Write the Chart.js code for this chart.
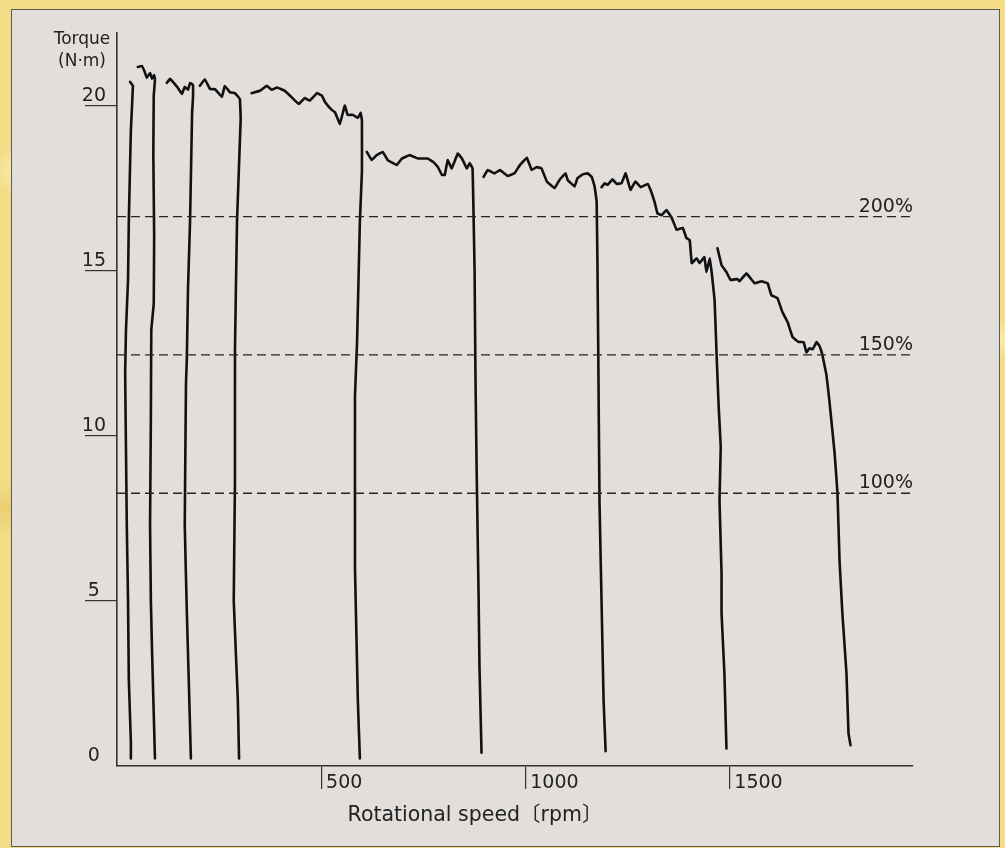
<!DOCTYPE html>
<html>
<head>
<meta charset="utf-8">
<script src="https://cdn.jsdelivr.net/npm/chart.js@4.4.0/dist/chart.umd.min.js"></script>
<style>
  html, body { margin: 0; padding: 0; }
  body {
    width: 1005px; height: 848px; overflow: hidden; position: relative;
    background:
      radial-gradient(ellipse at 3% 20%, rgba(255,245,190,0.9) 0, rgba(255,245,190,0) 40px),
      radial-gradient(ellipse at 2% 60%, rgba(230,200,100,0.8) 0, rgba(230,200,100,0) 50px),
      radial-gradient(ellipse at 99% 40%, rgba(250,240,170,0.9) 0, rgba(250,240,170,0) 40px),
      #f2dc86;
  }
  #panel {
    position: absolute; left: 11px; top: 9px; width: 987px; height: 836px;
    background: #e2dedb; border: 1px solid #5e5a55;
  }
  #wrap { position: absolute; left: 0; top: 0; }
</style>
</head>
<body>
<div id="panel"></div>
<div id="wrap"><canvas id="chart" width="1005" height="848"></canvas></div>
<script>
// torque (N·m) against rotational speed (rpm), one run per speed setting
var run1 = [[32,20.72],[39,20.6],[34,19.26],[29,16.54],[27,14.72],[22,13.2],[20,11.9],[22,9.57],[24,7.29],[27,5.02],[29,2.6],[34,0.72],[34,0.23]];
var run2 = [[51,21.17],[61,21.2],[68,21.02],[73,20.84],[81,20.99],[86,20.81],[91,20.93],[93,20.78],[90,20.3],[89,18.5],[91,16.1],[90,14.0],[84,13.2],[83,10.6],[81,7.3],[83,5.0],[86,3.4],[93,0.23]];
var run3 = [[122,20.69],[130,20.81],[137,20.72],[149,20.54],[159,20.35],[166,20.57],[174,20.48],[179,20.69],[186,20.63],[186,20.2],[184,19.8],[179,16.5],[174,14.5],[171,12.3],[169,11.6],[166,7.3],[171,4.7],[176,2.5],[181,0.23]];
var run4 = [[203,20.6],[215,20.8],[228,20.5],[240,20.5],[257,20.26],[264,20.6],[277,20.4],[289,20.38],[301,20.2],[303,19.6],[294,16.5],[289,12.6],[289,8.6],[286,5.0],[296,2.0],[299,0.23]];
var run5 = [[330,20.38],[350,20.45],[367,20.6],[379,20.48],[392,20.55],[411,20.45],[424,20.3],[436,20.15],[445,20.05],[460,20.23],[472,20.15],[490,20.38],[502,20.3],[510,20.1],[526,19.87],[534,19.8],[546,19.45],[558,20.0],[565,19.72],[578,19.72],[590,19.63],[597,19.78],[600,19.55],[600,18.0],[595,16.5],[588,12.8],[583,11.2],[583,7.3],[583,6.0],[590,2.0],[595,0.23]];
var run6 = [[612,18.6],[624,18.35],[636,18.5],[651,18.6],[663,18.35],[676,18.26],[685,18.2],[698,18.4],[717,18.5],[737,18.4],[761,18.4],[774,18.3],[786,18.14],[796,17.9],[803,17.9],[810,18.35],[820,18.1],[835,18.55],[845,18.4],[857,18.1],[864,18.26],[871,18.1],[873,17.0],[876,15.0],[878,12.0],[881,9.0],[886,5.0],[888,3.0],[893,0.4]];
var run7 = [[898,17.84],[908,18.05],[925,17.95],[938,18.05],[957,17.87],[974,17.95],[987,18.2],[1004,18.42],[1016,18.05],[1028,18.14],[1040,18.1],[1053,17.7],[1072,17.5],[1084,17.75],[1099,17.95],[1104,17.75],[1121,17.55],[1128,17.8],[1141,17.92],[1153,17.95],[1163,17.84],[1170,17.55],[1175,17.1],[1177,15.2],[1179,12.5],[1182,8.0],[1187,5.0],[1192,2.0],[1197,0.45]];
var run8 = [[1187,17.53],[1195,17.65],[1202,17.6],[1214,17.77],[1224,17.63],[1236,17.65],[1246,17.95],[1258,17.45],[1270,17.7],[1283,17.53],[1300,17.63],[1310,17.35],[1317,17.08],[1324,16.74],[1334,16.68],[1346,16.84],[1359,16.6],[1371,16.24],[1386,16.3],[1395,15.99],[1403,15.93],[1408,15.23],[1420,15.38],[1427,15.23],[1439,15.41],[1444,14.96],[1452,15.38],[1457,14.93],[1464,14.1],[1469,12.4],[1474,10.87],[1479,9.66],[1476,8.04],[1481,5.83],[1481,4.62],[1488,2.8],[1493,0.53]];
var run9 = [[1471,15.68],[1481,15.17],[1493,14.96],[1503,14.72],[1520,14.75],[1525,14.68],[1542,14.92],[1562,14.62],[1579,14.68],[1594,14.62],[1603,14.26],[1618,14.17],[1630,13.75],[1643,13.44],[1655,12.99],[1670,12.84],[1682,12.84],[1689,12.53],[1696,12.65],[1704,12.62],[1714,12.84],[1721,12.72],[1728,12.45],[1738,11.84],[1745,11.08],[1758,9.47],[1765,8.26],[1770,6.23],[1777,4.62],[1787,2.81],[1792,0.99],[1797,0.63]];
var runs = [run1, run2, run3, run4, run5, run6, run7, run8, run9];

// rated torque lines
var refLevels = [16.64, 12.45, 8.26];
var refLabels = ['200%', '150%', '100%'];

var xTicks = [500, 1000, 1500];
var yTicks = [0, 5, 10, 15, 20];
var xMax = 1950;
var yMax = 22.2;
var yTitle = ['Torque', '(N·m)'];
var xTitle = 'Rotational speed〔rpm〕';

var FONT = '"DejaVu Sans", "Noto Sans CJK JP", sans-serif';

var datasets = [];
refLevels.forEach(function(v) {
    datasets.push({
        data: [{x: 0, y: v}, {x: xMax, y: v}],
        borderColor: '#262626',
        borderWidth: 1.3,
        borderDash: [9, 5],
        pointRadius: 0
    });
});
runs.forEach(function(run) {
    // small tension keeps chart.js off its x-sorted fast path (runs go back on x)
    datasets.push({
        data: run.map(function(p) { return {x: p[0], y: p[1]}; }),
        borderColor: '#111',
        borderWidth: 2.6,
        pointRadius: 0,
        tension: 0.05,
        borderJoinStyle: 'round',
        borderCapStyle: 'round'
    });
});

// texts that Chart.js has no slot for
var textPlugin = {
    id: 'texts',
    afterDatasetsDraw: function(chart) {
        var ctx = chart.ctx, area = chart.chartArea, y = chart.scales.y;
        ctx.save();
        ctx.fillStyle = '#222';
        ctx.textAlign = 'center';
        ctx.textBaseline = 'middle';
        ctx.font = '17px ' + FONT;
        ctx.fillText(yTitle[0], area.left - 35, area.top + 7);
        ctx.fillText(yTitle[1], area.left - 35, area.top + 29);
        ctx.font = '20.5px ' + FONT;
        ctx.fillText(xTitle, (area.left + area.right) / 2 - 40, area.bottom + 50);
        ctx.font = '19px ' + FONT;
        ctx.textAlign = 'right';
        ctx.textBaseline = 'alphabetic';
        refLevels.forEach(function(v, i) {
            ctx.fillText(refLabels[i], area.right, y.getPixelForValue(v) - 5);
        });
        ctx.restore();
    }
};

var chart = new Chart(document.getElementById('chart'), {
    type: 'scatter',
    data: { datasets: datasets },
    options: {
        responsive: false,
        animation: false,
        showLine: true,
        layout: { padding: { top: 33, right: 92, left: 0, bottom: 0 } },
        plugins: { legend: { display: false }, tooltip: { enabled: false } },
        scales: {
            x: {
                type: 'linear', min: 0, max: xMax,
                afterBuildTicks: function(s) { s.ticks = xTicks.map(function(v) { return {value: v}; }); },
                afterFit: function(s) { s.height = 82; },
                grid: { drawOnChartArea: false, tickLength: 23, color: '#333', lineWidth: 1.2 },
                border: { color: '#333', width: 1.6 },
                ticks: {
                    align: 'start', labelOffset: 5, padding: -17, maxRotation: 0, color: '#222',
                    font: { family: FONT, size: 19 },
                    callback: function(v) { return String(v); }
                }
            },
            y: {
                type: 'linear', min: 0, max: yMax,
                afterBuildTicks: function(s) { s.ticks = yTicks.map(function(v) { return {value: v}; }); },
                afterFit: function(s) { s.width = 117; },
                grid: {
                    drawOnChartArea: false, tickLength: 32, lineWidth: 1.2,
                    color: function(c) { return c.tick && c.tick.value === 0 ? 'rgba(0,0,0,0)' : '#333'; }
                },
                border: { color: '#333', width: 1.6 },
                ticks: {
                    crossAlign: 'center', padding: -21, labelOffset: -10, color: '#222',
                    font: { family: FONT, size: 19 },
                    callback: function(v) { return String(v); }
                }
            }
        }
    },
    plugins: [textPlugin]
});
</script>
</body>
</html>
